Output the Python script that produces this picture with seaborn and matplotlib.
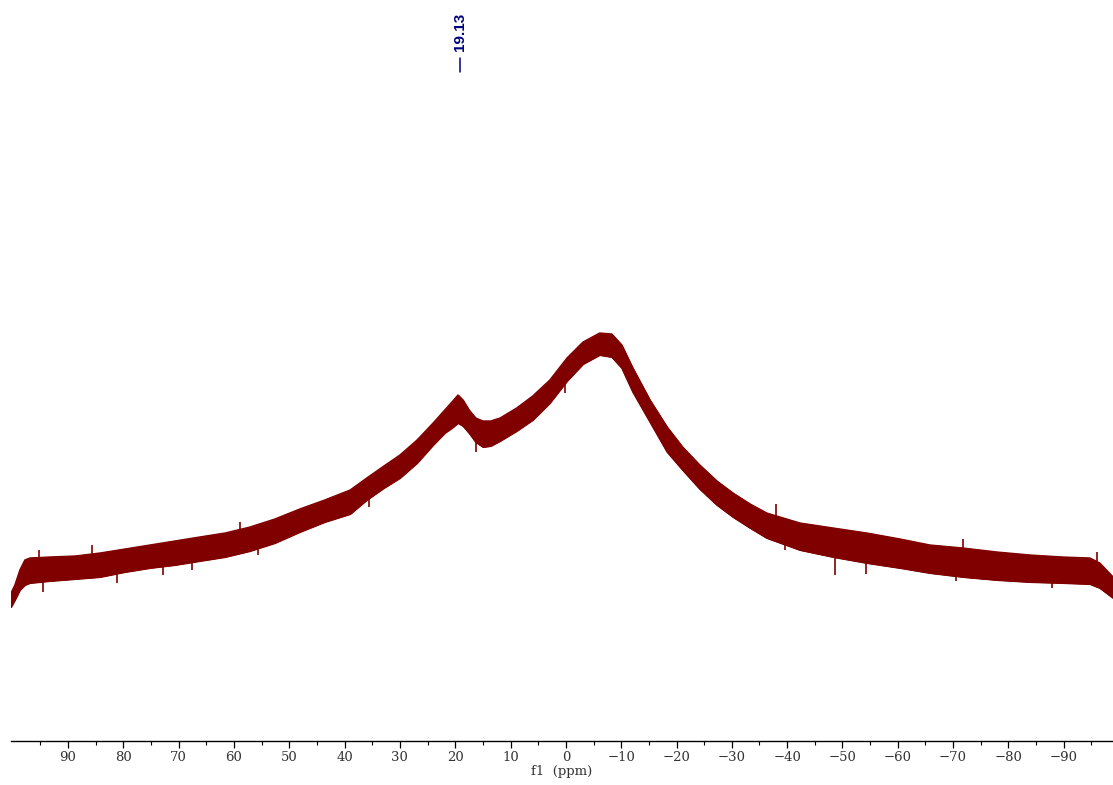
import numpy as np
import pandas as pd
import seaborn as sns
import matplotlib
matplotlib.use("Agg")
import matplotlib.pyplot as plt
from matplotlib.ticker import FixedLocator, FuncFormatter

# Chemical shift axis (ppm) and the noisy band of the broad spectrum:
# upper and lower edge of the trace, arbitrary intensity units.
ppm = [100.3, 99.6, 98.7, 97.8, 96.9, 93.3, 88.7, 84.2, 79.7, 75.2,
       70.7, 66.2, 61.6, 57.1, 52.6, 48.1, 43.6, 39.0, 36.0, 32.9,
       30.0, 26.9, 24.0, 21.9, 20.6, 19.5, 18.6, 17.5, 16.3, 15.0,
       13.6, 11.9, 8.9, 6.0, 2.9, -0.2, -3.1, -6.1, -8.3, -10.1,
       -12.1, -15.2, -18.3, -21.1, -24.2, -27.3, -30.2, -33.3, -36.3, -42.3,
       -48.3, -54.4, -60.4, -65.8, -71.8, -77.9, -83.9, -89.8, -94.7, -96.5,
       -98.9]
upper = [148, 156, 171, 181, 183, 184, 185, 188, 192, 196,
         200, 204, 208, 214, 222, 232, 241, 251, 263, 275,
         286, 301, 318, 331, 339, 346, 341, 331, 323, 320,
         320, 323, 333, 345, 361, 383, 399, 408, 407, 396,
         373, 341, 314, 294, 276, 260, 248, 237, 228, 218,
         213, 208, 202, 196, 193, 189, 186, 184, 183, 178,
         164]
lower = [134, 141, 151, 156, 158, 160, 162, 164, 169, 173,
         176, 180, 184, 190, 198, 209, 219, 227, 241, 253,
         263, 278, 296, 308, 313, 318, 315, 308, 299, 294,
         295, 300, 310, 321, 338, 360, 377, 386, 384, 373,
         349, 319, 289, 271, 252, 236, 224, 213, 203, 191,
         184, 178, 173, 168, 164, 161, 159, 158, 157, 153,
         143]

# Isolated noise spikes that stick out of the band (ppm, tip intensity)
spike_ppm = [95.2, 94.5, 85.7, 81.2, 72.8, 67.6, 58.9, 55.7, 35.6, 16.3,
             0.2, -38.0, -39.6, -48.6, -54.2, -70.5, -71.8, -87.8, -96.0]
spike_tip = [191, 149, 196, 158, 166, 171, 219, 186, 234, 289,
             348, 237, 191, 166, 167, 160, 202, 153, 189]

# Picked peak
peak_ppm = 19.13
peak_label = "19.13"

# Major tick values and minor tick values on the shift axis
major_ticks = [90, 80, 70, 60, 50, 40, 30, 20, 10, 0,
               -10, -20, -30, -40, -50, -60, -70, -80, -90]
minor_ticks = [95, 85, 75, 65, 55, 45, 35, 25, 15, 5,
               -5, -15, -25, -35, -45, -55, -65, -75, -85, -95]

spec = pd.DataFrame({"ppm": ppm, "upper": upper, "lower": lower})

sns.set_theme(style="white")
plt.rcParams["font.family"] = ["DejaVu Serif"]

W, H = 1113, 785
fig = plt.figure(figsize=(W / 100, H / 100), dpi=100)
ax = fig.add_axes([11 / W, 44 / H, 1102 / W, 741 / H])

trace = "#800000"
ax.fill_between(spec["ppm"], spec["lower"], spec["upper"],
                color=trace, linewidth=0.8, edgecolor=trace)
sns.lineplot(data=spec, x="ppm", y="upper", ax=ax, color=trace,
             linewidth=1.0, sort=False, estimator=None)
sns.lineplot(data=spec, x="ppm", y="lower", ax=ax, color=trace,
             linewidth=1.0, sort=False, estimator=None)

# spikes start from the middle of the band at their shift
x_asc = np.array(ppm[::-1])
mid = (np.array(upper[::-1]) + np.array(lower[::-1])) / 2
spike_base = np.interp(spike_ppm, x_asc, mid)
ax.vlines(spike_ppm, spike_base, spike_tip, color=trace, linewidth=1.2)

ax.set_xlim(100.3, -98.9)
ax.set_ylim(0, 741)

# Peak label: vertical number above a short marker line
ax.text(peak_ppm, 0.957, peak_label, transform=ax.get_xaxis_transform(),
        rotation=90, ha="center", va="center", color="#000080",
        fontsize=11, fontweight="bold", family=["Liberation Sans", "DejaVu Sans"])
ax.plot([peak_ppm, peak_ppm], [0.903, 0.922], transform=ax.get_xaxis_transform(),
        color="#000080", linewidth=1.1, clip_on=False)

# Axis styling: only the bottom spine with ticks pointing down
for side in ("top", "left", "right"):
    ax.spines[side].set_visible(False)
ax.spines["bottom"].set_color("black")
ax.spines["bottom"].set_linewidth(1.0)
ax.set_yticks([])
ax.set_ylabel("")
ax.xaxis.set_major_locator(FixedLocator(major_ticks))
ax.xaxis.set_minor_locator(FixedLocator(minor_ticks))
ax.xaxis.set_major_formatter(FuncFormatter(
    lambda v, pos: f"{v:.0f}".replace("-", "\u2212")))
ax.tick_params(axis="x", which="major", direction="out", length=5, width=0.9,
               color="black", labelsize=9.5, labelcolor="#333333", pad=2,
               bottom=True)
ax.tick_params(axis="x", which="minor", direction="out", length=3, width=0.8,
               color="black", bottom=True)
ax.set_xlabel("f1  (ppm)", fontsize=9.5, color="#333333", labelpad=1)

fig.savefig("out.png", dpi=100, facecolor="white")
